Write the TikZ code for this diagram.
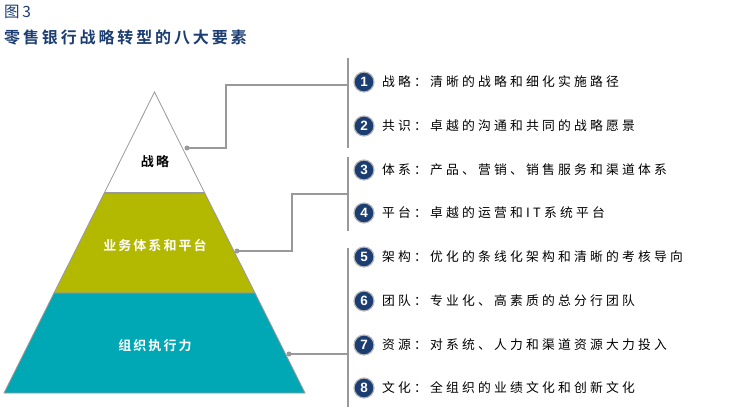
\documentclass[tikz,border=0pt]{standalone}
\usepackage{fontspec}
\setmainfont{Liberation Sans}
\newfontfamily\cjk[LetterSpace=25]{Noto Sans CJK SC}
\newfontfamily\cjkt[LetterSpace=18]{Noto Sans CJK SC}
\newfontfamily\cjkb[LetterSpace=16]{Noto Sans CJK SC Bold}
\newfontfamily\cjkh[LetterSpace=18]{Noto Sans CJK SC Bold}
\definecolor{navy}{HTML}{1B3D72}
\definecolor{olive}{HTML}{B3B800}
\definecolor{teal2}{HTML}{00A7B4}
\definecolor{lgray}{HTML}{999999}
\tikzset{
  band/.style={draw=lgray, line width=0.8pt},
  numc/.style={circle, fill=navy, draw=lgray!70, line width=1.2pt, minimum size=20pt, inner sep=0pt,
    text=white, font=\fontsize{13.5}{13.5}\selectfont\bfseries},
  item/.style={anchor=west, inner sep=0pt, font=\fontsize{12.8}{13}\selectfont\cjk},
  dotn/.style={circle, fill=lgray, inner sep=0pt, minimum size=5pt},
  conn/.style={draw=lgray, line width=1.3pt},
  brk/.style={draw=lgray, line width=2pt},
  plabel/.style={font=\fontsize{13}{13}\selectfont\cjkb, inner sep=0pt}
}
\begin{document}
\begin{tikzpicture}[x=1pt,y=-1pt]
\useasboundingbox (0,0) rectangle (739,407);
% title
\node[anchor=west, inner sep=0pt, text=navy, font=\fontsize{15.5}{15.5}\selectfont\cjkt] (fig) at (4,12) {图3};
\node[anchor=west, inner sep=0pt, text=navy, font=\fontsize{16}{16}\selectfont\cjkh] (title) at (4,37) {零售银行战略转型的八大要素};
% pyramid
\coordinate (apex) at (154.5,92);
\draw[band, fill=white] (apex) -- (204.5,192.5) -- (104.5,192.5) -- cycle;
\draw[band, fill=olive] (104.5,192.5) -- (204.5,192.5) -- (255,293) -- (54,293) -- cycle;
\draw[band, fill=teal2] (54,293) -- (255,293) -- (305,393) -- (4,393) -- cycle;
\draw[lgray, line width=2pt] (104.5,192.5) -- (204.5,192.5);
\node[plabel, text=black] (p1) at (155,162) {战略};
\node[plabel, text=white] (p2) at (155,245) {业务体系和平台};
\node[plabel, text=white] (p3) at (155,346) {组织执行力};
% dots
\node[dotn] (d1) at (187,148) {};
\node[dotn] (d2) at (237,251) {};
\node[dotn] (d3) at (289,354) {};
% brackets
\coordinate (b1t) at (347.5,58); \coordinate (b1b) at (347.5,148);
\coordinate (b2t) at (347.5,157); \coordinate (b2b) at (347.5,231);
\coordinate (b3t) at (347.5,248); \coordinate (b3b) at (347.5,407);
\draw[brk] (b1t) -- (b1b);
\draw[brk] (b2t) -- (b2b);
\draw[brk] (b3t) -- (b3b);
\coordinate (k1) at (347,85);
\coordinate (k2) at (347,194);
\coordinate (k3) at (347,354);
\draw[conn] (d1.center) -- (226,148) |- (k1);
\draw[conn] (d2.center) -- (292,251) |- (k2);
\draw[conn] (d3.center) -- (k3);
% items
\foreach \i/\y/\t in {1/82/{战略：清晰的战略和细化实施路径},
                     2/126/{共识：卓越的沟通和共同的战略愿景},
                     3/170/{体系：产品、营销、销售服务和渠道体系},
                     4/213/{平台：卓越的运营和IT系统平台},
                     5/257/{架构：优化的条线化架构和清晰的考核导向},
                     6/301/{团队：专业化、高素质的总分行团队},
                     7/345/{资源：对系统、人力和渠道资源大力投入},
                     8/388/{文化：全组织的业绩文化和创新文化}} {
  \node[numc] (n\i) at (364,\y) {\i};
  \node[item] (t\i) at (382,\y) {\t};
}
\end{tikzpicture}
\end{document}
